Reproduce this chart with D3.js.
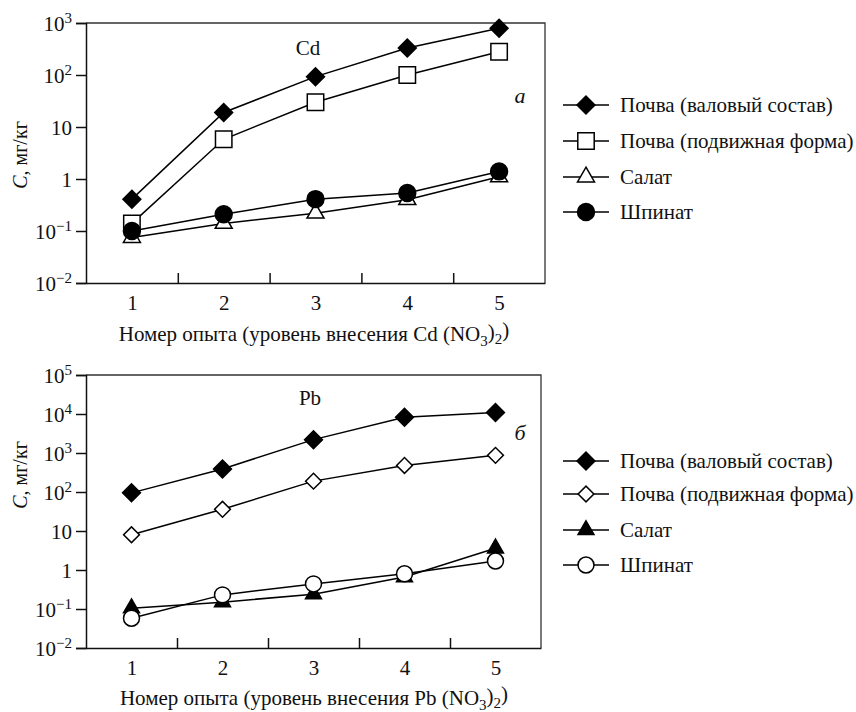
<!DOCTYPE html>
<html>
<head>
<meta charset="utf-8">
<script src="https://cdn.jsdelivr.net/npm/d3@7"></script>
<style>
  body { margin: 0; background: #fff; }
</style>
</head>
<body>
<div id="chart"></div>
<script>
// experiment numbers (x axis)
var experiments = [1, 2, 3, 4, 5];
var seriesNames = ["Почва (валовый состав)", "Почва (подвижная форма)", "Салат", "Шпинат"];

// cadmium, mg/kg
var cdTotal   = [0.41, 19, 93, 330, 790];
var cdMobile  = [0.14, 5.8, 30, 100, 280];
var cdLettuce = [0.075, 0.14, 0.22, 0.4, 1.1];
var cdSpinach = [0.1, 0.21, 0.41, 0.54, 1.4];

// lead, mg/kg
var pbTotal   = [95, 390, 2200, 8200, 11000];
var pbMobile  = [8, 36, 190, 480, 870];
var pbLettuce = [0.105, 0.15, 0.24, 0.66, 3.6];
var pbSpinach = [0.058, 0.23, 0.44, 0.8, 1.7];

// tick labels
var cdTicks = [1e-2, 1e-1, 1, 10, 1e2, 1e3];
var pbTicks = [1e-2, 1e-1, 1, 10, 1e2, 1e3, 1e4, 1e5];
var xLabelTicks = [1, 2, 3, 4, 5];
var xMarkTicks = [1.5, 2.5, 3.5, 4.5];

var FONT = "'Liberation Serif', 'DejaVu Serif', serif";

var svg = d3.select("#chart").append("svg")
    .attr("width", 856)
    .attr("height", 712)
    .style("font-family", FONT);

function markerPath(kind, size) {
    if (kind == "diamond" || kind == "square") return d3.symbol().type(d3.symbolSquare).size(size)();
    if (kind == "triangle") return d3.symbol().type(d3.symbolTriangle).size(size)();
    return d3.symbol().type(d3.symbolCircle).size(size)();
}

function drawMarker(g, m, cx, cy) {
    g.append("path")
        .attr("d", markerPath(m.kind, m.size))
        .attr("transform", "translate(" + cx + "," + cy + ")" + (m.kind == "diamond" ? " rotate(45)" : ""))
        .attr("fill", m.fill)
        .attr("stroke", "#000")
        .attr("stroke-width", 1.5);
}

function label(sel, size) {
    return sel.style("font-family", FONT).style("font-size", size + "px").attr("fill", "#111");
}

function drawPanel(p) {
    var g = svg.append("g")
        .attr("transform", "translate(" + p.left + "," + p.top + ")");

    var x = d3.scaleLinear().domain([0.5, 5.5]).range([0, p.width]);
    var y = d3.scaleLog().domain(p.yDomain).range([p.height, 0]);

    // frame (top and right)
    g.append("path")
        .attr("d", "M0,0H" + p.width + "V" + p.height)
        .attr("fill", "none")
        .attr("stroke", "#333")
        .attr("stroke-width", 1.3);

    // y axis
    var yAxis = g.append("g")
        .call(d3.axisLeft(y).tickValues(p.yTicks).tickSize(10).tickPadding(4).tickFormat(""));
    yAxis.selectAll(".tick text").each(function (d) {
        var e = Math.round(Math.log10(d));
        var t = label(d3.select(this), 21).attr("dy", "0.35em");
        if (e == 0) { t.text("1"); return; }
        if (e == 1) { t.text("10"); return; }
        t.text("10");
        t.append("tspan")
            .attr("dy", "-0.55em")
            .style("font-size", "15px")
            .text(e < 0 ? "\u2212" + (-e) : e);
    });

    // x axis: labels at integers, ticks between them pointing inward
    var xAxis = g.append("g")
        .attr("transform", "translate(0," + p.height + ")")
        .call(d3.axisBottom(x).tickValues(xLabelTicks).tickSize(0).tickPadding(12).tickFormat(d3.format("d")));
    label(xAxis.selectAll(".tick text"), 21);
    g.append("g")
        .attr("transform", "translate(0," + p.height + ")")
        .call(d3.axisBottom(x).tickValues(xMarkTicks).tickSize(-10).tickFormat(""))
        .select(".domain").remove();

    g.selectAll(".domain").attr("stroke", "#111").attr("stroke-width", 1.5);
    g.selectAll(".tick line").attr("stroke", "#111").attr("stroke-width", 1.5);

    // series lines and markers
    var line = d3.line()
        .x(function (d, i) { return x(experiments[i]); })
        .y(function (d) { return y(d); });

    p.series.forEach(function (s) {
        g.append("path")
            .datum(s.values)
            .attr("d", line)
            .attr("fill", "none")
            .attr("stroke", "#000")
            .attr("stroke-width", 1.5);
    });
    p.series.forEach(function (s) {
        s.values.forEach(function (v, i) {
            drawMarker(g, s.marker, x(experiments[i]), y(v));
        });
    });

    // element name and panel letter
    label(g.append("text"), 21)
        .attr("x", p.elemX).attr("y", p.elemY)
        .attr("dy", "0.35em")
        .style("text-anchor", "middle")
        .text(p.element);
    label(g.append("text"), 22)
        .attr("x", p.letterX).attr("y", p.letterY)
        .attr("dy", "0.35em")
        .style("font-style", "italic")
        .style("text-anchor", "middle")
        .text(p.letter);

    // y axis title
    var yt = label(g.append("text"), 20)
        .attr("transform", "rotate(-90)")
        .attr("x", -p.yTitleY)
        .attr("y", 27 - p.left)
        .style("text-anchor", "middle");
    yt.append("tspan").style("font-style", "italic").text("C");
    yt.append("tspan").text(", мг/кг");

    // x axis title with subscripts
    var xt = label(g.append("text"), 21)
        .attr("x", p.xTitleX)
        .attr("y", p.height + p.xTitleDy)
        .style("text-anchor", "middle");
    xt.append("tspan").text("Номер опыта (уровень внесения " + p.element + " (NO");
    xt.append("tspan").attr("dy", "0.3em").style("font-size", "15px").text("3");
    xt.append("tspan").attr("dy", "-0.3em").text(")");
    xt.append("tspan").attr("dy", "0.3em").style("font-size", "15px").text("2");
    xt.append("tspan").attr("dy", "-0.3em").text(")");

    // legend
    var lg = svg.append("g");
    p.series.forEach(function (s, i) {
        var ly = p.legendRows[i];
        lg.append("line")
            .attr("x1", 563).attr("x2", 609)
            .attr("y1", ly).attr("y2", ly)
            .attr("stroke", "#000")
            .attr("stroke-width", 1.5);
        drawMarker(lg, s.marker, 586, ly);
        label(lg.append("text"), 21)
            .attr("x", 620).attr("y", ly)
            .attr("dy", "0.35em")
            .text(seriesNames[i]);
    });
}

drawPanel({
    left: 86, top: 23, width: 459, height: 260,
    yDomain: [1e-2, 1e3], yTicks: cdTicks,
    element: "Cd", letter: "а",
    elemX: 222, elemY: 25, letterX: 434, letterY: 72,
    yTitleY: 132, xTitleX: 228, xTitleDy: 58,
    legendRows: [105, 141, 177, 212],
    series: [
        { values: cdTotal,   marker: { kind: "diamond",  size: 160, fill: "#000" } },
        { values: cdMobile,  marker: { kind: "square",   size: 270, fill: "#fff" } },
        { values: cdLettuce, marker: { kind: "triangle", size: 125, fill: "#fff" } },
        { values: cdSpinach, marker: { kind: "circle",   size: 225, fill: "#000" } }
    ]
});

drawPanel({
    left: 86, top: 375, width: 455, height: 273,
    yDomain: [1e-2, 1e5], yTicks: pbTicks,
    element: "Pb", letter: "б",
    elemX: 224, elemY: 23, letterX: 434, letterY: 57,
    yTitleY: 100, xTitleX: 228, xTitleDy: 57,
    legendRows: [461, 494, 530, 565],
    series: [
        { values: pbTotal,   marker: { kind: "diamond",  size: 160, fill: "#000" } },
        { values: pbMobile,  marker: { kind: "diamond",  size: 125, fill: "#fff" } },
        { values: pbLettuce, marker: { kind: "triangle", size: 110, fill: "#000" } },
        { values: pbSpinach, marker: { kind: "circle",   size: 200, fill: "#fff" } }
    ]
});
</script>
</body>
</html>
